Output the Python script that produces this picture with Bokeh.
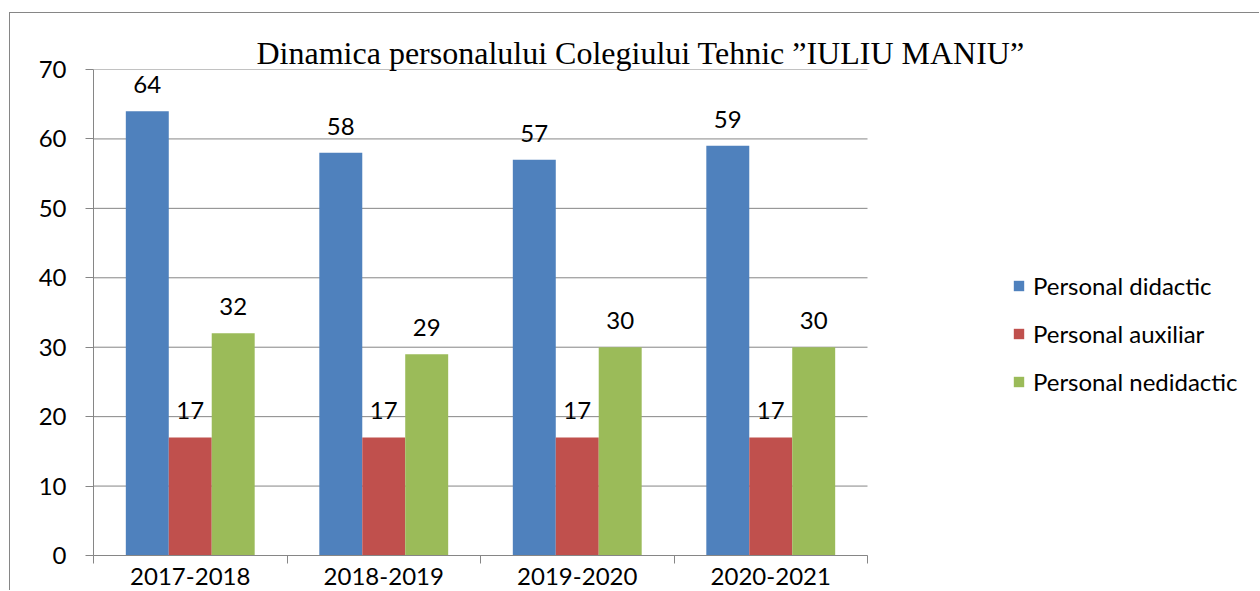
from bokeh.plotting import figure
from bokeh.models import (ColumnDataSource, FixedTicker, SingleIntervalTicker, CustomJSTickFormatter,
                          Legend, LegendItem, LabelSet, Range1d, Title)
from bokeh.core.properties import value
from bokeh.transform import dodge
from bokeh.embed import file_html
from bokeh.resources import INLINE
import numpy as np

# ---- data ----
categories = ["2017-2018", "2018-2019", "2019-2020", "2020-2021"]
series_names = ["Personal didactic", "Personal auxiliar", "Personal nedidactic"]
didactic = [64, 58, 57, 59]
auxiliar = [17, 17, 17, 17]
nedidactic = [32, 29, 30, 30]
y_ticks = [0, 10, 20, 30, 40, 50, 60, 70]
colors = ["#4F81BD", "#C0504D", "#9BBB59"]
title_text = "Dinamica personalului Colegiului Tehnic \u201dIULIU MANIU\u201d"

FONT = "Lato"
FS = "24px"
GRID = "#868686"

n = len(categories)
pos = np.arange(n) + 0.5
source = ColumnDataSource(dict(
    x=pos, didactic=didactic, auxiliar=auxiliar, nedidactic=nedidactic,
    l_did=[str(v) for v in didactic], l_aux=[str(v) for v in auxiliar],
    l_ned=[str(v) for v in nedidactic],
))

# plot area extends to the right to host the legend (categories occupy 0..n)
x_end = n * 1167 / 774

p = figure(width=1250, height=578, output_backend="svg", toolbar_location=None,
           x_range=Range1d(0, x_end), y_range=Range1d(y_ticks[0], y_ticks[-1]),
           min_border_left=83, min_border_right=0, min_border_top=56, min_border_bottom=36,
           styles={"margin-top": "12px", "margin-left": "9px",
                   "border-top": "1px solid #868686", "border-left": "1px solid #868686"})
p.outline_line_color = None
p.background_fill_color = "white"
p.border_fill_color = "white"

# horizontal gridlines limited to the category area
p.segment(x0=[0] * len(y_ticks), x1=[n] * len(y_ticks), y0=y_ticks, y1=y_ticks,
          line_color=GRID, line_width=1)

bw = 0.222
fields = ["didactic", "auxiliar", "nedidactic"]
lfields = ["l_did", "l_aux", "l_ned"]
offsets = [-bw, 0.0, bw]
renderers = []
for f, lf, off, c in zip(fields, lfields, offsets, colors):
    r = p.vbar(x=dodge("x", off, range=p.x_range), top=f, width=bw, source=source,
               fill_color=c, line_color=None)
    renderers.append(r)
    labels = LabelSet(x=dodge("x", off, range=p.x_range), y=f, text=lf, source=source,
                      text_align="center", text_baseline="alphabetic", y_offset=18,
                      text_font=value(FONT), text_font_size=FS, text_color="black")
    p.add_layout(labels)

# y axis
p.yaxis.ticker = FixedTicker(ticks=y_ticks)
p.yaxis.axis_line_color = GRID
p.yaxis.major_tick_line_color = GRID
p.yaxis.major_tick_out = 8
p.yaxis.major_tick_in = 0
p.yaxis.minor_tick_line_color = None
p.yaxis.major_label_text_font = FONT
p.yaxis.major_label_text_font_size = FS
p.yaxis.major_label_text_color = "black"
p.yaxis.major_label_standoff = 19

# x axis
p.xaxis.bounds = (0, n)
p.xaxis.ticker = FixedTicker(ticks=list(pos), minor_ticks=list(range(n + 1)))
p.xaxis.formatter = CustomJSTickFormatter(args=dict(labels=categories),
                                          code="return labels[Math.floor(tick)] || '';")
p.xaxis.axis_line_color = GRID
p.xaxis.major_tick_line_color = None
p.xaxis.major_tick_out = 0
p.xaxis.major_tick_in = 0
p.xaxis.minor_tick_line_color = GRID
p.xaxis.minor_tick_out = 8
p.xaxis.minor_tick_in = 0
p.xaxis.major_label_text_font = FONT
p.xaxis.major_label_text_font_size = FS
p.xaxis.major_label_text_color = "black"
p.xaxis.major_label_standoff = 4

p.xgrid.grid_line_color = None
p.ygrid.grid_line_color = None

# title
p.title = Title(text=title_text, align="left", offset=163, standoff=-3,
                text_font="Liberation Serif", text_font_size="32px",
                text_font_style="normal", text_color="black")

# legend
legend = Legend(items=[LegendItem(label=s, renderers=[r]) for s, r in zip(series_names, renderers)],
                location=(919, 159), orientation="vertical",
                label_text_font=FONT, label_text_font_size=FS, label_text_color="black",
                glyph_width=13, glyph_height=13, label_standoff=8, spacing=19,
                padding=0, margin=0, border_line_color=None, background_fill_color=None)
p.add_layout(legend, "center")

open("out.html", "w").write(file_html(p, INLINE))
